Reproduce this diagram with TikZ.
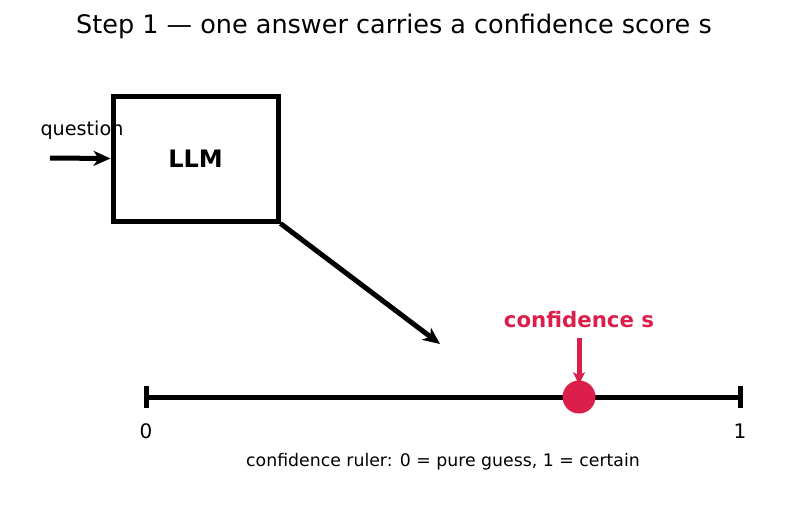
\documentclass[tikz,border=0pt]{standalone}
\usepackage{fontspec}
\setmainfont{DejaVu Sans}
\usetikzlibrary{arrows.meta}
\definecolor{confred}{RGB}{220,30,75}

\begin{document}
\begin{tikzpicture}[x=1pt,y=-1pt,
    thick line/.style={line width=5pt},
    arr/.style={thick line,-{Stealth[length=17pt,width=15pt,inset=5pt]}}]
    \useasboundingbox (0,0) rectangle (787,512);

    \node[font=\fontsize{25.5}{28}\selectfont] (title) at (394,26) {Step 1 — one answer carries a confidence score s};

    % model box
    \node[draw, thick line, minimum width=165pt, minimum height=125pt, inner sep=0pt,
          font=\fontsize{24}{28}\bfseries\selectfont] (llm) at (195.5,158.5) {LLM};
    \node[font=\fontsize{19.2}{22}\selectfont] (question) at (82,130) {question};
    \coordinate (qstart) at (50,158);
    \draw[arr] (qstart) -- (llm.west);

    % ruler
    \coordinate (zero) at (146,397);
    \coordinate (one) at (740,397);
    \coordinate (hit) at (440,344);
    \draw[arr] (llm.south east) -- (hit);
    \draw[thick line] (zero) -- (one);
    \draw[thick line] ([yshift=-11pt]zero) -- ([yshift=11pt]zero);
    \draw[thick line] ([yshift=-11pt]one) -- ([yshift=11pt]one);
    \node[font=\fontsize{20}{24}\selectfont] (lzero) at (146,431) {0};
    \node[font=\fontsize{20}{24}\selectfont] (lone) at (740,431) {1};

    % score
    \node[circle, fill=confred, minimum size=33pt, inner sep=0pt] (score) at (579,397) {};
    \node[font=\fontsize{21.3}{24}\bfseries\selectfont, text=confred] (scorelabel) at (579,320) {confidence s};
    \coordinate (sstart) at (579,338);
    \draw[confred, thick line, -{Stealth[length=12pt,width=12pt,inset=3pt]}] (sstart) -- ([yshift=-4pt]score.north);

    \node[font=\fontsize{17.3}{20}\selectfont] (caption) at (443,462) {confidence ruler: 0 = pure guess, 1 = certain};
\end{tikzpicture}
\end{document}
